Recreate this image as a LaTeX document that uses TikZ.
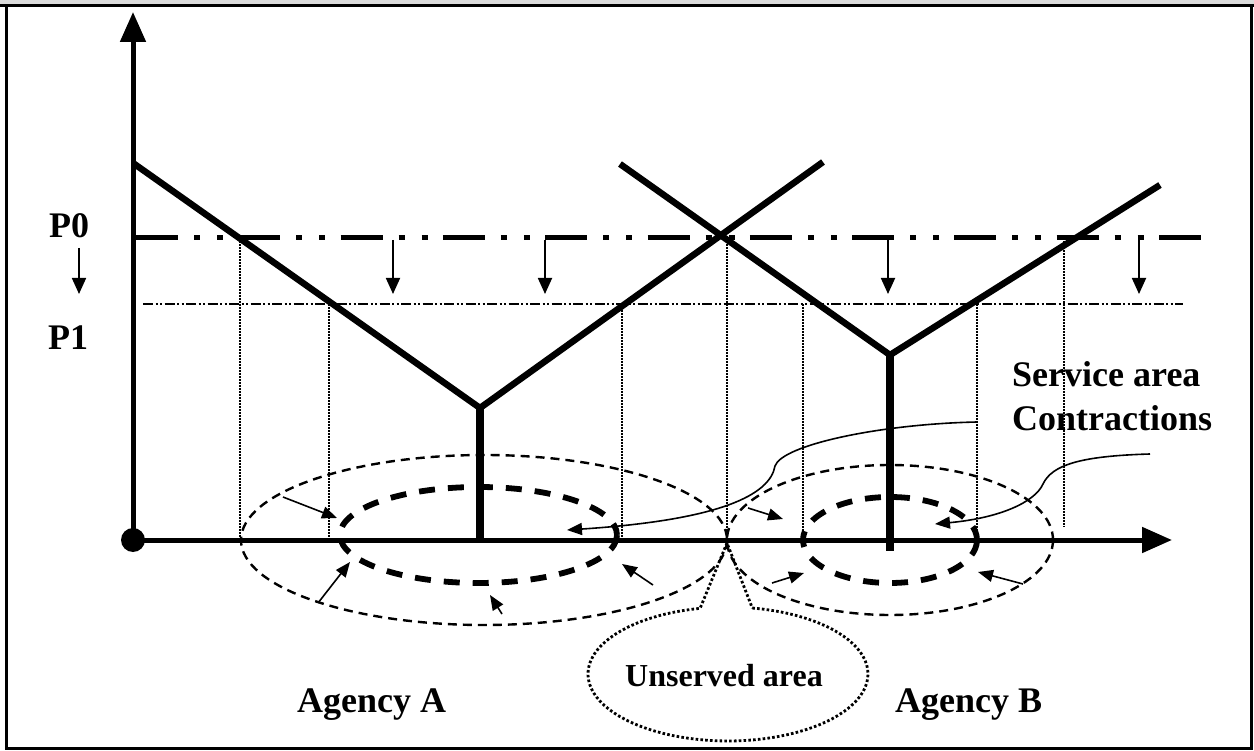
\documentclass[tikz,border=0pt]{standalone}
\usepackage{fontspec}
\setmainfont{Liberation Serif}
\usetikzlibrary{arrows.meta}

\begin{document}
\begin{tikzpicture}[x=1pt,y=-1pt,
  axisline/.style={line width=5pt},
  vshape/.style={line width=6.5pt, line join=miter},
  stemline/.style={line width=7.5pt},
  pzero/.style={line width=5pt, dash pattern=on 42pt off 16pt on 6pt off 17pt on 6pt off 15.3pt},
  pone/.style={line width=1.5pt, dash pattern=on 10pt off 2.5pt on 2pt off 2.5pt on 2pt off 2.5pt},
  dropline/.style={line width=1.4pt, dash pattern=on 1.8pt off 1.2pt},
  outerring/.style={line width=2.4pt, dash pattern=on 9pt off 6pt},
  innerring/.style={line width=5.8pt, dash pattern=on 16pt off 13pt},
  contract/.style={line width=1.6pt, -{Triangle[length=15pt,width=12pt]}},
  pricedrop/.style={line width=1.8pt, -{Triangle[length=16pt,width=14pt]}},
  callout/.style={line width=2.8pt, dash pattern=on 2.6pt off 2.2pt},
  lbl/.style={font=\fontsize{36}{40}\selectfont\bfseries, inner sep=0pt},
  smalllbl/.style={font=\fontsize{32}{36}\selectfont\bfseries, inner sep=0pt},
]
\useasboundingbox (0,0) rectangle (1254,751);
\fill[white] (0,0) rectangle (1254,751);

% page frame with the strip of the caption above it
\fill[black!14] (0,0) rectangle (1254,4);
\draw[line width=3.5pt] (0,5.5) -- (1254,5.5);
\draw[line width=3pt] (6.5,5) -- (6.5,748) -- (1251.5,748) -- (1251.5,5);

% key points
\coordinate (O) at (133,540);
\coordinate (ytip) at (133,12);
\coordinate (xtip) at (1172,540);
\coordinate (aL) at (133,163);
\coordinate (aV) at (480,408);
\coordinate (aR) at (823,162);
\coordinate (bL) at (620,164);
\coordinate (bV) at (890,355);
\coordinate (bR) at (1160,185);
\coordinate (aBase) at (480,540);
\coordinate (bBase) at (890,551);

% drop lines from the price levels to the axis
\foreach \x/\y/\z in {240/238/540, 329/304/540, 622/304/540, 727/238/540,
                      803/304/540, 977/304/540, 1064/238/527}
  \draw[dropline] (\x,\y) -- (\x,\z);

% price levels
\draw[pone] (143,304) -- (1183,304);
\draw[pzero] (136,238) -- (1204,238);
\foreach \x in {393,545,888,1139}
  \draw[pricedrop] (\x,240) -- (\x,294);

% service areas
\draw[outerring] (484,540) ellipse[x radius=243, y radius=85];
\draw[innerring] (478.5,535) ellipse[x radius=138.5, y radius=48];
\draw[outerring] (890,540) ellipse[x radius=163, y radius=75];
\draw[innerring] (890,540) ellipse[x radius=87, y radius=43];

% axes
\draw[axisline, -{Triangle[length=30pt,width=25pt]}] (O) -- (ytip);
\draw[axisline, -{Triangle[length=30pt,width=25pt]}] (O) -- (xtip);
\fill (O) circle[radius=12pt];

% delivered price lines and agency locations
\draw[vshape] (aL) -- (aV) -- (aR);
\draw[vshape] (bL) -- (bV) -- (bR);
\draw[stemline] (aV) -- (aBase);
\draw[stemline] (bV) -- (bBase);

% contraction arrows, agency A
\coordinate (c1s) at (283,497); \coordinate (c1e) at (337,518);
\coordinate (c2s) at (318,603); \coordinate (c2e) at (350,562);
\coordinate (c3s) at (502,614); \coordinate (c3e) at (490,595);
\coordinate (c4s) at (653,585); \coordinate (c4e) at (622,564);
\draw[contract] (c1s) -- (c1e);
\draw[contract] (c2s) -- (c2e);
\draw[contract] (c3s) -- (c3e);
\draw[contract] (c4s) -- (c4e);

% contraction arrows, agency B
\coordinate (d1s) at (748,508); \coordinate (d1e) at (783,519);
\coordinate (d2s) at (772,583); \coordinate (d2e) at (804,573);
\coordinate (d3s) at (1023,584); \coordinate (d3e) at (978,572);
\draw[contract] (d1s) -- (d1e);
\draw[contract] (d2s) -- (d2e);
\draw[contract] (d3s) -- (d3e);

% leaders from the note
\node[lbl, anchor=base west] (svc) at (1012,387) {Service area};
\node[lbl, anchor=base west] (ctr) at (1012,431) {Contractions};
\coordinate (la) at (977,422);
\coordinate (lak) at (775,466);
\coordinate (lae) at (567,530);
\coordinate (lb) at (1150,454);
\coordinate (lbk) at (1043,484);
\coordinate (lbe) at (935,524);
\draw[contract] (la) .. controls (880,424) and (782,445) .. (lak)
  .. controls (770,495) and (720,520) .. (lae);
\draw[contract] (lb) .. controls (1080,456) and (1052,465) .. (lbk)
  .. controls (1035,502) and (1000,518) .. (lbe);

% unserved area callout
\coordinate (gap) at (727,543);
\draw[callout] plot[domain=-80:258.5, samples=90]
  ({728+140*cos(\x)},{674+67*sin(\x)}) -- (gap) -- cycle;
\node[smalllbl, anchor=base] (uns) at (724,686) {Unserved area};

% level and agency labels
\node[lbl, anchor=base] (p0) at (69,238) {P0};
\node[lbl, anchor=base] (p1) at (68,350) {P1};
\coordinate (p0a) at (79,248);
\coordinate (p0b) at (79,294);
\draw[pricedrop] (p0a) -- (p0b);
\node[lbl, anchor=base west] (agA) at (297,712) {Agency A};
\node[lbl, anchor=base west] (agB) at (895,712) {Agency B};
\end{tikzpicture}
\end{document}
